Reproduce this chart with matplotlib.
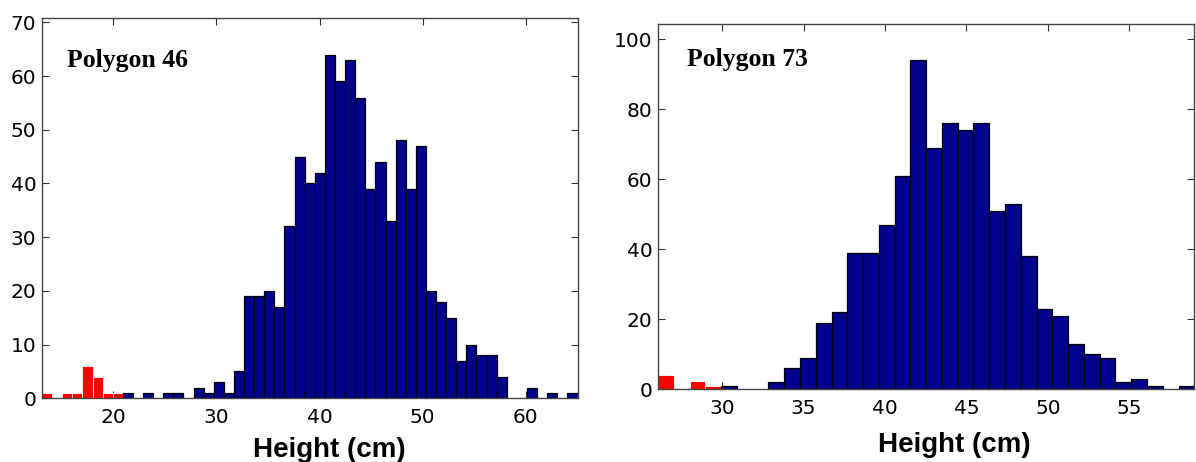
import numpy as np
import matplotlib
matplotlib.use("Agg")
import matplotlib.pyplot as plt

# ---------------- data ----------------
# Polygon 46: histogram, 53 equal bins spanning the data range
p46_range = (13.1, 65.0)
p46_red = [1, 0, 1, 1, 6, 4, 1, 1] + [0] * 45
p46_blue = [0, 0, 0, 0, 0, 0, 0, 0,
            1, 0, 1, 0, 1, 1, 0, 2, 1, 3, 1, 5,
            19, 19, 20, 17, 32, 45, 40, 42, 64, 59,
            63, 56, 39, 44, 33, 48, 39, 47, 20, 18,
            15, 7, 10, 8, 8, 4, 0, 0, 2, 0,
            1, 0, 1]
p46_xticks = [20, 30, 40, 50, 60]
p46_yticks = [0, 10, 20, 30, 40, 50, 60, 70]
p46_ymax = 70.75
p46_title = "Polygon 46"

# Polygon 73: histogram, 34 equal bins spanning the data range
p73_range = (26.05, 59.0)
p73_red = [4, 0, 2.5, 0.9] + [0] * 30
p73_blue = [0, 0, 0, 0, 1, 0, 0, 2, 6, 9,
            19, 22, 39, 39, 47, 61, 94, 69, 76, 74,
            76, 51, 53, 38, 23, 21, 13, 10, 9, 2,
            3, 1, 0, 1]
p73_xticks = [30, 35, 40, 45, 50, 55]
p73_yticks = [0, 20, 40, 60, 80, 100]
p73_ymax = 104.3
p73_title = "Polygon 73"

xlabel = "Height (cm)"

BLUE = "#00008C"
RED = "#FF0000"

# ---------------- figure ----------------
W, H = 1196, 462
fig = plt.figure(figsize=(W / 100, H / 100), dpi=100)


def px_axes(x0, y0, x1, y1):
    return fig.add_axes([x0 / W, 1 - y1 / H, (x1 - x0) / W, (y1 - y0) / H])


def draw(ax, rng, red, blue, xticks, yticks, ymax):
    n = len(blue)
    edges = np.linspace(rng[0], rng[1], n + 1)
    w = edges[1] - edges[0]
    red = np.asarray(red, float)
    blue = np.asarray(blue, float)
    m = red > 0
    ax.bar(edges[:-1][m], red[m], width=w, align="edge", color=RED,
           edgecolor="white", linewidth=0.6, zorder=2)
    b = blue > 0
    ax.bar(edges[:-1][b], blue[b], width=w, align="edge", color=BLUE,
           edgecolor="black", linewidth=0.9, zorder=3)
    ax.set_xlim(rng)
    ax.set_ylim(0, ymax)
    ax.set_xticks(xticks)
    ax.set_yticks(yticks)
    ax.tick_params(direction="in", top=True, right=True, length=5,
                   width=0.8, labelsize=14.5, pad=7, colors="#333333",
                   labelcolor="black")
    for lab in ax.get_xticklabels() + ax.get_yticklabels():
        lab.set_fontfamily("DejaVu Sans")
    for s in ax.spines.values():
        s.set_color("#444444")
        s.set_linewidth(1.0)
        s.set_zorder(5)


ax1 = px_axes(42, 18.3, 577.5, 398.3)
draw(ax1, p46_range, p46_red, p46_blue, p46_xticks, p46_yticks, p46_ymax)
ax1.tick_params(axis="y", pad=4)

ax2 = px_axes(658, 24.3, 1194.3, 389.3)
draw(ax2, p73_range, p73_red, p73_blue, p73_xticks, p73_yticks, p73_ymax)
ax2.tick_params(axis="y", pad=4)

fig.text(67 / W, 1 - 66.5 / H, p46_title, family="Liberation Serif",
         weight="bold", fontsize=18.5, va="baseline", ha="left")
fig.text(687 / W, 1 - 65.7 / H, p73_title, family="Liberation Serif",
         weight="bold", fontsize=18.5, va="baseline", ha="left")

fig.text(329.5 / W, 1 - 456.7 / H, xlabel, family="Liberation Sans",
         weight="bold", fontsize=20, va="baseline", ha="center")
fig.text(954.5 / W, 1 - 451.7 / H, xlabel, family="Liberation Sans",
         weight="bold", fontsize=20, va="baseline", ha="center")

fig.savefig("out.png", dpi=100)
